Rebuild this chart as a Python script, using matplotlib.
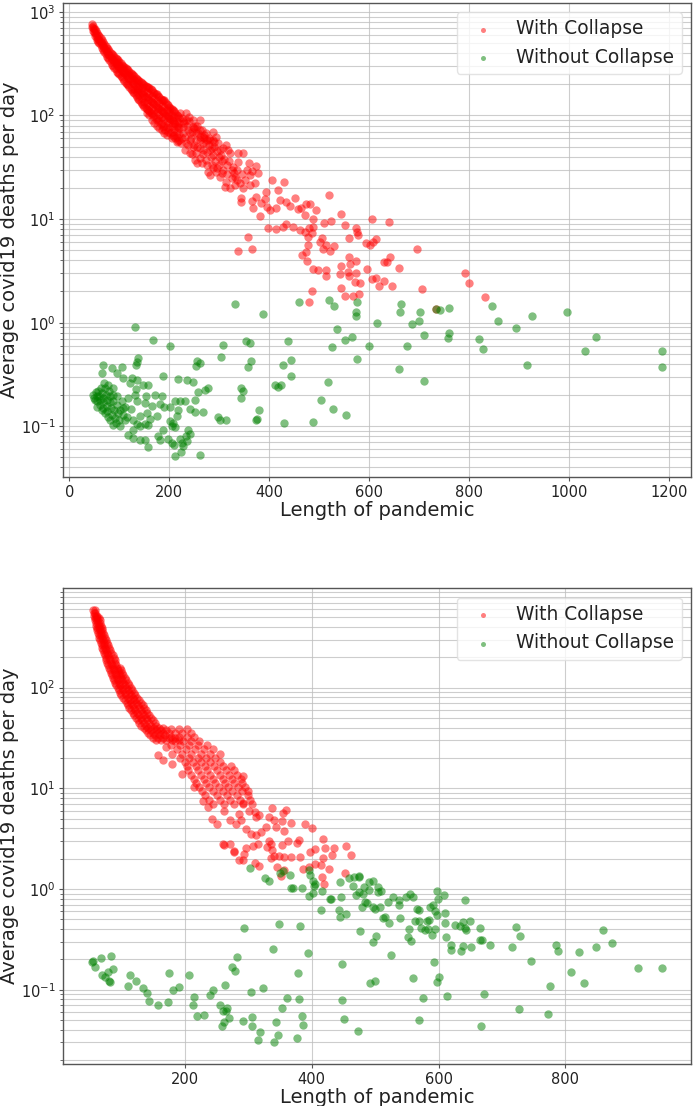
import numpy as np
import matplotlib
matplotlib.use("Agg")
import matplotlib.pyplot as plt

# ---------------- top panel data ----------------
# dense red band, early part of the curve
red_top_band = [
    (45, 760), (45, 720), (48, 700), (48, 660), (52, 680), (52, 620), (52, 590),
    (56, 620), (56, 560), (56, 530), (60, 580), (60, 540), (60, 500),
    (65, 530), (65, 490), (65, 450), (70, 490), (70, 450), (70, 410),
    (75, 450), (75, 410), (75, 370), (80, 420), (80, 380), (80, 340),
    (85, 390), (85, 350), (85, 310), (90, 370), (90, 330), (90, 290),
    (95, 350), (95, 310), (95, 265), (100, 330), (100, 290), (100, 250),
    (105, 310), (105, 270), (105, 235), (110, 295), (110, 255), (110, 215),
    (115, 280), (115, 240), (115, 200), (120, 265), (120, 225), (120, 190),
    (125, 250), (125, 210), (125, 175), (130, 240), (130, 200), (130, 165),
    (135, 225), (135, 185), (135, 150), (140, 215), (140, 175), (140, 140),
    (145, 205), (145, 165), (145, 130), (150, 195), (150, 155), (150, 120),
    (155, 190), (155, 150), (155, 115), (155, 105), (160, 185), (160, 140),
    (160, 110), (160, 100), (165, 175), (165, 135), (165, 105), (165, 90),
    (170, 165), (170, 130), (170, 100), (170, 85), (175, 160), (175, 120),
    (175, 95), (175, 80), (180, 150), (180, 115), (180, 90), (180, 75),
    (185, 140), (185, 110), (185, 85), (185, 72), (190, 140), (190, 105),
    (190, 80), (190, 68), (195, 130), (195, 100), (195, 78), (195, 65),
    (200, 120), (200, 95), (200, 75), (205, 115), (205, 90), (205, 70),
    (205, 60), (210, 110), (210, 85), (210, 65), (215, 100), (215, 80),
    (215, 62), (215, 55), (220, 95), (220, 75), (220, 58),
]
red_top_band2 = [
    (47, 735), (50, 690), (50, 640), (54, 650), (54, 600), (58, 600), (58, 550),
    (58, 515), (62.5, 560), (62.5, 515), (62.5, 475), (67.5, 510), (67.5, 470),
    (67.5, 430), (72.5, 470), (72.5, 430), (72.5, 390), (77.5, 435), (77.5, 395),
    (77.5, 355), (82.5, 405), (82.5, 365), (82.5, 325), (87.5, 380), (87.5, 340),
    (87.5, 300), (92.5, 360), (92.5, 320), (92.5, 278), (97.5, 340), (97.5, 300),
    (97.5, 258), (102.5, 320), (102.5, 280), (102.5, 242), (107.5, 302), (107.5, 262),
    (107.5, 225), (112.5, 288), (112.5, 248), (112.5, 208), (117.5, 272), (117.5, 232),
    (117.5, 195), (122.5, 258), (122.5, 218), (122.5, 182), (127.5, 245), (127.5, 205),
    (127.5, 170), (132.5, 232), (132.5, 192), (132.5, 158), (137.5, 220), (137.5, 180),
    (137.5, 145), (142.5, 210), (142.5, 170), (142.5, 135), (147.5, 200), (147.5, 160),
    (147.5, 125), (152.5, 192), (152.5, 152), (152.5, 118), (157.5, 188), (157.5, 145),
    (157.5, 112), (162.5, 180), (162.5, 138), (162.5, 105), (167.5, 170), (167.5, 132),
    (167.5, 98), (172.5, 162), (172.5, 125), (172.5, 92), (177.5, 155), (177.5, 118),
    (177.5, 88), (182.5, 145), (182.5, 112), (182.5, 82), (187.5, 140), (187.5, 108),
    (187.5, 78), (192.5, 135), (192.5, 102), (192.5, 72), (197.5, 125), (197.5, 98),
    (197.5, 70), (202.5, 118), (202.5, 92), (202.5, 68), (207.5, 112), (207.5, 88),
    (207.5, 64), (212.5, 105), (212.5, 82), (212.5, 60), (217.5, 98), (217.5, 78),
    (217.5, 57),
]
# extra fill where the band reads as solid red
red_top_band3 = [
    (95, 329), (100, 309), (105, 289), (110, 274), (115, 259), (120, 244), (125, 229),
    (130, 219), (135, 204), (140, 194), (145, 184), (150, 174), (155, 169), (160, 161),
    (165, 154), (170, 147), (175, 139), (180, 131), (185, 124), (190, 122), (195, 114),
    (200, 107), (205, 102), (210, 96), (215, 89), (220, 84),
    (130, 182), (135, 167), (140, 156), (145, 146), (150, 136), (155, 132), (160, 124),
    (165, 119), (170, 114), (175, 107), (180, 102), (185, 97), (190, 92), (195, 88),
    (200, 84), (205, 79), (210, 74), (215, 70), (220, 66),
]
red_top_mid = [
    (314, 51.9), (321, 43), (338, 43), (348, 43), (359, 34.5), (373, 32.5),
    (378, 27.7), (361, 26.7), (351, 23.8), (341, 22.1), (331, 21.3), (321, 19.8),
    (311, 20.3), (314, 23), (301, 25.6), (294, 28.7), (288, 30.9), (278, 28.7),
    (281, 26.7), (308, 29.8), (328, 32), (338, 35.8), (331, 25.6), (348, 19.8),
    (361, 21.3), (371, 22.1), (304, 41.5), (288, 41.5), (274, 37.2), (261, 38.5),
    (251, 37.2), (241, 43.2), (234, 53.8), (248, 50), (261, 62.4), (274, 67.1),
    (288, 58), (298, 53.8), (301, 46.5), (281, 46.5), (268, 46.5), (254, 43.2),
    (288, 69.7), (294, 62.4), (308, 48.2), (318, 46.5), (234, 90.4), (248, 78),
    (261, 72.4), (228, 67.1), (238, 72.4), (221, 105), (234, 105), (248, 90.4),
    (224, 53.8), (231, 46.5), (241, 58), (254, 58), (268, 53.8), (261, 58),
    (274, 53.8), (241, 67), (254, 67), (268, 62), (281, 58), (228, 78), (261, 90),
    (225, 95), (230, 85), (235, 80), (240, 88), (245, 70), (250, 75), (255, 80),
    (258, 68), (265, 72), (270, 60), (275, 58), (280, 52), (285, 48), (290, 50),
    (295, 45), (300, 40), (305, 36), (310, 38), (315, 33), (320, 36), (325, 30),
    (330, 28), (335, 30), (226, 60), (232, 62), (238, 52), (244, 60), (250, 52),
    (256, 50), (262, 48), (268, 42), (276, 44), (284, 40), (292, 36), (300, 33),
    (245, 42), (255, 35), (265, 35), (275, 33), (285, 33), (295, 31), (305, 28),
    (315, 27), (325, 25), (335, 24), (345, 27), (355, 30), (365, 29), (228, 88),
    (252, 80), (240, 96), (270, 65), (280, 60), (290, 55),
]
red_top_tail = [
    (406, 23.8), (429, 22.8), (418, 19.1), (393, 18.4), (374, 16.5), (391, 15.5),
    (344, 15.8), (343, 14.7), (366, 15), (368, 12.7), (383, 14.2), (396, 13.2),
    (401, 12.2), (414, 12.7), (421, 15.3), (434, 14.7), (441, 13.4), (451, 16.1),
    (458, 12.4), (464, 12.7), (474, 14), (482, 14), (471, 11), (494, 12.2),
    (520, 17.1), (544, 11.1), (488, 10), (381, 10.6), (398, 8.26), (413, 7.96),
    (428, 8.45), (434, 8.9), (448, 8.45), (462, 7.85), (471, 7.45), (480, 8.15),
    (488, 8.34), (510, 9.1), (524, 9.6), (551, 8.83), (573, 8.26), (576, 7.57),
    (605, 9.95), (639, 9.44), (357, 6.67), (366, 5.15), (337, 4.92), (478, 6.77),
    (486, 7.29), (478, 5.62), (501, 6.05), (506, 6.53), (508, 5.11), (513, 5.62),
    (529, 5.5), (521, 4.96), (560, 6.53), (577, 7.03), (593, 5.93), (601, 5.62),
    (614, 6.43), (607, 5.97), (473, 4.85), (465, 4.51), (476, 3.94), (488, 3.3),
    (498, 3.23), (513, 3.23), (514, 2.84), (544, 3.56), (560, 4.28), (562, 3.66),
    (574, 3.97), (542, 2.93), (558, 3.11), (559, 2.79), (573, 3.04), (572, 2.49),
    (581, 2.44), (595, 3.28), (605, 2.62), (613, 2.69), (620, 2.26), (629, 2.53),
    (630, 3.83), (636, 3.88), (641, 4.34), (660, 3.35), (645, 2.28), (544, 2.18),
    (485, 2.04), (552, 1.79), (568, 1.81), (579, 1.9), (480, 1.6), (696, 5.14),
    (705, 2.12), (791, 3.0), (799, 2.44), (832, 1.77), (733, 1.35),
]
green_top_cluster = [
    (48.1, 0.201), (49.4, 0.187), (53.4, 0.212), (54.8, 0.194), (54.8, 0.174),
    (58.1, 0.217), (60.1, 0.197), (61.4, 0.18), (61.4, 0.161), (62.8, 0.233),
    (64.8, 0.209), (66.8, 0.187), (68.1, 0.17), (68.1, 0.15), (69.4, 0.261),
    (71.4, 0.233), (73.4, 0.201), (74.8, 0.18), (74.8, 0.158), (76.1, 0.139),
    (78.1, 0.251), (80.1, 0.217), (81.4, 0.194), (81.4, 0.17), (82.8, 0.15),
    (84.8, 0.129), (86.8, 0.233), (88.1, 0.201), (88.1, 0.174), (89.4, 0.144),
    (91.4, 0.12), (93.4, 0.107), (94.8, 0.194), (96.1, 0.161), (98.1, 0.134),
    (100.1, 0.116), (101.4, 0.0998), (104.8, 0.174), (106.8, 0.15), (108.1, 0.129),
    (111.4, 0.116), (51.4, 0.18), (56, 0.155), (64.8, 0.144), (71.4, 0.134),
    (78.1, 0.124), (81.4, 0.116), (88.1, 0.103),
]
green_top_spread = [
    (166.8, 0.684), (201.5, 0.589), (307, 0.611), (303.6, 0.461), (138, 0.455),
    (136, 0.416), (133.5, 0.392), (255, 0.423), (261.5, 0.408), (253.5, 0.384),
    (68, 0.392), (85, 0.364), (105, 0.372), (64.8, 0.33), (94.8, 0.326),
    (188, 0.307), (218, 0.287), (235, 0.281), (247, 0.265), (108, 0.292),
    (125, 0.292), (136, 0.277), (121.5, 0.261), (148, 0.251), (158, 0.251),
    (133.5, 0.229), (131.5, 0.201), (278, 0.233), (271.5, 0.222), (257, 0.214),
    (171.5, 0.199), (185, 0.197), (153, 0.194), (118, 0.187), (135, 0.174),
    (151.5, 0.168), (165, 0.158), (211.5, 0.174), (221.5, 0.174), (231.5, 0.174),
    (251.5, 0.18), (181.5, 0.165), (189.5, 0.153), (201.5, 0.153), (218, 0.144),
    (215, 0.126), (241.5, 0.146), (251.5, 0.137), (268, 0.136), (298, 0.123),
    (301.5, 0.114), (313.5, 0.114), (123, 0.146), (111.5, 0.152), (101.4, 0.144),
    (115, 0.123), (128, 0.116), (141.5, 0.126), (156, 0.134), (161.5, 0.117),
    (175, 0.126), (135, 0.105), (141.5, 0.1), (151.5, 0.105), (158, 0.103),
    (201.5, 0.113), (208, 0.107), (211.5, 0.098), (205, 0.101), (188, 0.0925),
    (127, 0.0925), (118, 0.0828), (128, 0.077), (141.5, 0.074), (151.5, 0.073),
    (178, 0.0798), (181.5, 0.074), (198, 0.0745), (205, 0.0689), (209.5, 0.0664),
    (221.5, 0.075), (225, 0.069), (228, 0.0649), (235, 0.0724), (238, 0.0925),
    (241.5, 0.0841), (233.5, 0.0798), (158, 0.063), (211.5, 0.052), (223.5, 0.0567),
    (261.5, 0.0531), (132, 0.912), (331.6, 1.52), (388, 1.22), (353.6, 0.668),
    (361.6, 0.634), (363.6, 0.422), (358.3, 0.372), (438.4, 0.668), (443, 0.437),
    (427, 0.392), (443.7, 0.303), (411.7, 0.248), (417, 0.239), (423, 0.248),
    (343.6, 0.233), (347, 0.217), (343, 0.187), (380, 0.142), (375, 0.117),
    (373, 0.115), (429, 0.107), (460, 1.6), (520, 1.64), (530, 1.46), (535, 0.87),
    (552, 0.678), (525, 0.58), (517, 0.27), (503, 0.18), (488, 0.111), (528, 0.148),
    (553, 0.128), (575, 1.58), (573.4, 1.26), (573.4, 1.15), (663.5, 1.51),
    (661.5, 1.26), (701.5, 1.28), (733, 1.35), (741.5, 1.33), (759.5, 1.4),
    (845.6, 1.45), (615, 0.99), (685, 0.975), (700, 1.03), (857.6, 1.03),
    (925.6, 1.15), (995.6, 1.26), (894, 0.885), (566.7, 0.73), (709.5, 0.757),
    (759.5, 0.797), (757, 0.708), (820, 0.689), (600, 0.597), (675.5, 0.597),
    (827.5, 0.563), (1055, 0.734), (1032, 0.527), (1187, 0.527), (575, 0.448),
    (915.6, 0.389), (1186.4, 0.375), (660, 0.359), (709.5, 0.275),
]

# ---------------- bottom panel data ----------------
red_bot_band = [
    (55.5, 590), (57.5, 590), (57, 520), (59.5, 520), (62, 520),
    (58.4, 467), (62, 467), (65.5, 467), (60.5, 410), (64, 410), (68, 410),
    (62.1, 371), (66, 371), (70, 371), (64, 330), (68, 330), (72.5, 330),
    (66.3, 296), (71, 296), (76, 296), (68.5, 265), (73, 265), (79, 265),
    (71, 235), (76, 235), (82, 235), (73.5, 210), (79, 210), (86, 210),
    (76.3, 187), (82, 187), (89, 187), (79, 168), (85, 168), (92, 168),
    (82.1, 149), (88, 149), (94, 149), (99, 149), (85, 133), (91, 133), (97, 133),
    (103, 133), (88.4, 118), (95, 118), (101, 118), (107, 118), (92, 105),
    (98, 105), (105, 105), (112, 105), (96.3, 94.2), (103, 94.2), (110, 94.2),
    (117, 94.2), (100, 84), (107, 84), (115, 84), (122, 84), (105.8, 74.8),
    (113, 74.8), (120, 74.8), (128, 74.8), (110, 67), (118, 67), (126, 67),
    (134, 67), (114.8, 59.6), (122, 59.6), (130, 59.6), (138, 59.6), (120, 53),
    (128, 53), (136, 53), (143, 53), (125.3, 47.3), (133, 47.3), (141, 47.3),
    (150, 47.3), (131, 42), (139, 42), (147, 42), (155, 42), (138.4, 37.7),
    (146, 37.7), (154, 37.7), (162, 37.7), (170, 37.7), (145, 33.5), (153, 33.5),
    (161, 33.5), (168, 33.5), (154, 30), (162, 30), (170, 30), (180, 30), (190, 30),
    (178, 39.1), (190, 39.1), (203, 39.1), (178, 32.3), (190, 32.3), (203, 32.3),
    (215, 32.3), (178, 26.7), (192, 26.7), (206, 26.7), (220, 26.7), (235, 26.7),
    (180, 22.1), (195, 22.1), (210, 22.1), (225, 22.1), (240, 22.1), (255, 22.1),
    (200, 18.2), (213, 18.2), (226, 18.2), (240, 18.2), (255, 18.2),
    (205, 15.1), (220, 15.1), (235, 15.1), (250, 15.1), (265, 15.1), (277, 15.1),
    (215, 12.4), (230, 12.4), (245, 12.4), (260, 12.4), (275, 12.4), (288, 12.4),
    (222, 10.3), (238, 10.3), (253, 10.3), (268, 10.3), (283, 10.3), (295, 10.3),
    (232, 8.5), (250, 8.5), (266, 8.5), (282, 8.5), (300, 8.5),
    (245, 7.03), (262, 7.03), (278, 7.03), (292, 7.03), (306, 7.03),
    (158, 21.2), (165, 19), (170, 25.7), (180, 17.5), (195, 14), (214, 10.3),
    (228, 7.4), (236, 6.5), (243, 5.0), (250, 4.4), (262, 6.0),
]
red_bot_band2 = [
    (56.5, 555), (59, 555), (58, 493), (61, 493), (64, 493), (59.5, 438), (63, 438),
    (66.5, 438), (61.3, 390), (65, 390), (69, 390), (63, 350), (67, 350), (71, 350),
    (65, 312), (69.5, 312), (74, 312), (67.5, 280), (72, 280), (77.5, 280),
    (69.8, 250), (74.5, 250), (80.5, 250), (72.3, 222), (77.5, 222), (84, 222),
    (75, 198), (80.5, 198), (87.5, 198), (77.5, 177), (83.5, 177), (90.5, 177),
    (80.5, 158), (86.5, 158), (93, 158), (97, 158), (83.5, 141), (89.5, 141),
    (95.5, 141), (101, 141), (86.5, 125), (93, 125), (99, 125), (105, 125),
    (90, 111), (96.5, 111), (103, 111), (109.5, 111), (94, 99), (100.5, 99),
    (107.5, 99), (114.5, 99), (98, 89), (105, 89), (112.5, 89), (119.5, 89),
    (103, 79), (110, 79), (117.5, 79), (125, 79), (108, 71), (115.5, 71), (123, 71),
    (131, 71), (112.5, 63), (120, 63), (128, 63), (136, 63), (117.5, 56), (125, 56),
    (133, 56), (140.5, 56), (122.5, 50), (130.5, 50), (138.5, 50), (146.5, 50),
    (128, 44.5), (136, 44.5), (144, 44.5), (152.5, 44.5), (135, 40), (142.5, 40),
    (150.5, 40), (158.5, 40), (166, 40), (141.5, 35.5), (149.5, 35.5), (157.5, 35.5),
    (165, 35.5), (175, 35.5), (150, 31.7), (158, 31.7), (166, 31.7), (175, 31.7),
    (185, 31.7), (184, 35.5), (196, 35.5), (209, 35.5), (184, 29.5), (197, 29.5),
    (210, 29.5), (222, 29.5), (187, 24.3), (202, 24.3), (216, 24.3), (230, 24.3),
    (245, 24.3), (192, 20), (206, 20), (220, 20), (234, 20), (248, 20),
    (203, 16.6), (217, 16.6), (232, 16.6), (246, 16.6), (260, 16.6), (272, 16.6),
    (210, 13.7), (225, 13.7), (240, 13.7), (255, 13.7), (270, 13.7), (282, 13.7),
    (218, 11.3), (233, 11.3), (248, 11.3), (263, 11.3), (278, 11.3), (290, 11.3),
    (227, 9.4), (244, 9.4), (260, 9.4), (275, 9.4), (290, 9.4), (300, 9.4),
    (238, 7.7), (255, 7.7), (271, 7.7), (287, 7.7), (302, 7.7),
]
red_bot_tail = [
    (291, 13.4), (337, 6.41), (360, 6.12), (355, 5.67), (333, 5.18), (341, 4.8),
    (353, 4.69), (343.6, 4.12), (355.7, 3.73), (367, 4.51), (390, 4.44), (400, 4.06),
    (380, 3.08), (377, 2.86), (362, 2.99), (353, 2.75), (335.7, 2.77), (329, 2.61),
    (314.6, 2.81), (306.8, 2.65), (297, 2.55), (271.5, 2.81), (262, 2.75), (277.8, 2.36),
    (293.6, 2.24), (284.6, 1.95), (292, 1.95), (310, 1.81), (316.2, 1.69), (335.7, 2.04),
    (341, 2.15), (344.6, 1.65), (356.7, 2.1), (367.3, 2.08), (382, 2.08), (397.3, 2.32),
    (405, 2.5), (418.3, 3.16), (421.5, 2.56), (435.7, 2.56), (431.5, 2.2), (418.3, 2.04),
    (405, 1.78), (396.2, 1.65), (414.6, 1.75), (427.8, 1.59), (462, 2.19), (452, 1.45),
    (415.7, 1.31), (418.8, 1.11), (351.5, 1.36), (357, 1.55), (292, 7.13), (311, 5.81),
    (317, 5.38), (260.5, 2.77), (278, 2.32), (338, 2.42), (348, 2.15), (387, 1.59),
    (454, 2.7), (271.5, 4.8), (280, 4.45), (288, 4.8), (296, 3.96), (304, 3.53),
    (312, 3.4), (320, 3.67), (328, 4.12), (333, 3.03), (301, 6.0), (312, 5.18),
    (286, 5.6),
]
green_bot_left = [
    (53.2, 0.1875), (55.8, 0.195), (58.4, 0.17), (67.4, 0.207), (83.2, 0.215),
    (70, 0.14), (74.2, 0.135), (80.5, 0.121), (81.6, 0.119), (79.5, 0.149),
    (86.9, 0.161), (110, 0.11), (113.7, 0.14), (122.6, 0.121), (134.2, 0.104),
    (141, 0.093), (143.7, 0.0767), (157.4, 0.0711), (172.6, 0.0762), (174.2, 0.146),
    (181, 0.0995), (191, 0.1057), (206.8, 0.14), (213.7, 0.0853), (212.1, 0.0711),
    (218.9, 0.0552), (229.5, 0.0565), (239.5, 0.0893), (244.7, 0.0995), (255.8, 0.0705),
    (262.6, 0.112), (260.5, 0.0619), (264.7, 0.0619), (262, 0.0474), (258.4, 0.0433),
    (265.8, 0.0653), (270, 0.0523), (274.2, 0.17), (279.5, 0.152), (281.6, 0.213),
    (293.7, 0.411), (291, 0.0485), (304.2, 0.0942), (305.2, 0.0532), (305.2, 0.0433),
    (323.7, 0.104), (318.9, 0.0383), (314.7, 0.0319), (339.4, 0.251), (343.6, 0.0474),
    (346.3, 0.0355), (341, 0.03), (353, 0.0659), (349, 0.451), (360.5, 0.0822),
    (378.9, 0.146), (380.5, 0.081), (376.8, 0.0332), (381.5, 0.427), (384.7, 0.0552),
    (386.8, 0.045), (393.6, 0.23), (447.8, 0.18), (447.8, 0.079), (451.5, 0.0513),
]
green_bot_upper = [
    (303, 1.62), (326.3, 1.28), (332, 1.2), (350.5, 1.44), (354, 1.5), (366.3, 1.39),
    (367.3, 1.02), (370, 1.02), (384.7, 1.03), (396.3, 1.55), (397.3, 1.38),
    (402.6, 1.21), (404.2, 1.07), (404.7, 1.12), (401.5, 0.916), (395.2, 0.861),
    (416.3, 0.966), (429.4, 0.798), (430.5, 0.787), (414.7, 0.625), (443.6, 0.621),
    (445.2, 0.533), (446.3, 0.83), (444.7, 1.17), (454, 0.567),
]
green_bot_right = [
    (458.3, 1.29), (467.3, 1.33), (474.1, 1.35), (474.1, 1.31), (465.7, 1.08),
    (475.2, 0.93), (470, 0.881), (483, 1.04), (491, 1.17), (496.2, 1.21), (490, 0.982),
    (481.5, 0.895), (484.6, 0.74), (479.4, 0.67), (486.7, 0.723), (504, 1.04),
    (509.4, 0.966), (504, 0.93), (496.2, 0.659), (500.4, 0.635), (507.8, 0.659),
    (512, 0.516), (516.2, 0.525), (521.5, 0.457), (519.9, 0.74), (528.8, 0.83),
    (538.3, 0.769), (537.3, 0.697), (548.8, 0.83), (555.2, 0.895), (559.4, 0.83),
    (565.7, 0.635), (569.9, 0.621), (539.9, 0.516), (554.1, 0.402), (551.5, 0.332),
    (556.7, 0.303), (563.6, 0.486), (569.9, 0.486), (572.5, 0.411), (581.5, 0.486),
    (584.6, 0.493), (577.8, 0.393), (583, 0.402), (589.9, 0.353), (595.1, 0.402),
    (586.7, 0.67), (591, 0.686), (595.1, 0.611), (597.3, 0.557), (597.3, 0.951),
    (598.8, 0.798), (607.8, 0.875), (610.9, 0.575), (610.9, 0.457), (612, 0.332),
    (625.1, 0.444), (633, 0.434), (638.3, 0.475), (640.9, 0.411), (642.5, 0.393),
    (648.8, 0.486), (640.9, 0.769), (619.9, 0.281), (619.9, 0.248), (635.7, 0.245),
    (638.3, 0.274), (650.4, 0.264), (665.7, 0.411), (664.6, 0.313), (668.8, 0.313),
    (680.4, 0.279), (716.2, 0.264), (722.5, 0.417), (727.8, 0.345), (745.1, 0.195),
    (785.6, 0.279), (788.3, 0.241), (820.9, 0.239), (848.8, 0.264), (859.3, 0.395),
    (874, 0.292), (808.3, 0.151), (914.6, 0.163), (952.9, 0.163), (828.8, 0.117),
    (775.1, 0.108), (525.2, 0.221), (592, 0.187), (600.4, 0.133), (597.3, 0.12),
    (560.4, 0.13), (492, 0.117), (500.4, 0.121), (576.2, 0.0828), (613, 0.0873),
    (670.9, 0.0901), (726.2, 0.0649), (772.5, 0.0578), (568.8, 0.0501),
    (667.2, 0.044), (472.5, 0.0386), (476.7, 0.386), (501.4, 0.344), (497.2, 0.296),
]

red_top = np.array(red_top_band + red_top_band2 + red_top_band3 + red_top_mid + red_top_tail)
green_top = np.array(green_top_cluster + green_top_spread)
red_bot = np.array(red_bot_band + red_bot_band2 + red_bot_tail)
green_bot = np.array(green_bot_left + green_bot_upper + green_bot_right)

TXT = '#222222'


def draw_panel(ax, red, green):
    ax.scatter(red[:, 0], red[:, 1], s=36, c='red', alpha=0.5, linewidths=0,
               label='With Collapse', zorder=3)
    ax.scatter(green[:, 0], green[:, 1], s=36, c='green', alpha=0.5, linewidths=0,
               label='Without Collapse', zorder=3)
    ax.set_yscale('log')
    ax.grid(True, which='both', color='#bdbdbd', linewidth=0.8, alpha=0.75)
    ax.set_axisbelow(True)
    for sp in ax.spines.values():
        sp.set_color('#555555')
        sp.set_linewidth(1.0)
    ax.tick_params(axis='both', which='major', labelsize=10.5, colors='#555555',
                   labelcolor=TXT, length=3, pad=2.5)
    ax.tick_params(axis='y', which='minor', colors='#555555', length=2)
    ax.set_xlabel('Length of pandemic', fontsize=14, color=TXT, labelpad=1)
    ax.set_ylabel('Average covid19 deaths per day', fontsize=14, color=TXT, labelpad=1)
    leg = ax.legend(loc='upper right', fontsize=13.4, markerscale=0.6, framealpha=0.8,
                    edgecolor='#dddddd', borderpad=0.4)
    for t in leg.get_texts():
        t.set_color(TXT)


fig = plt.figure(figsize=(6.93, 11.06), dpi=100)
ax1 = fig.add_axes([0.0913, 0.5685, 0.9057, 0.4291])
ax2 = fig.add_axes([0.0913, 0.0380, 0.9057, 0.4300])
draw_panel(ax1, red_top, green_top)
draw_panel(ax2, red_bot, green_bot)

fig.savefig('out.png', dpi=100)
